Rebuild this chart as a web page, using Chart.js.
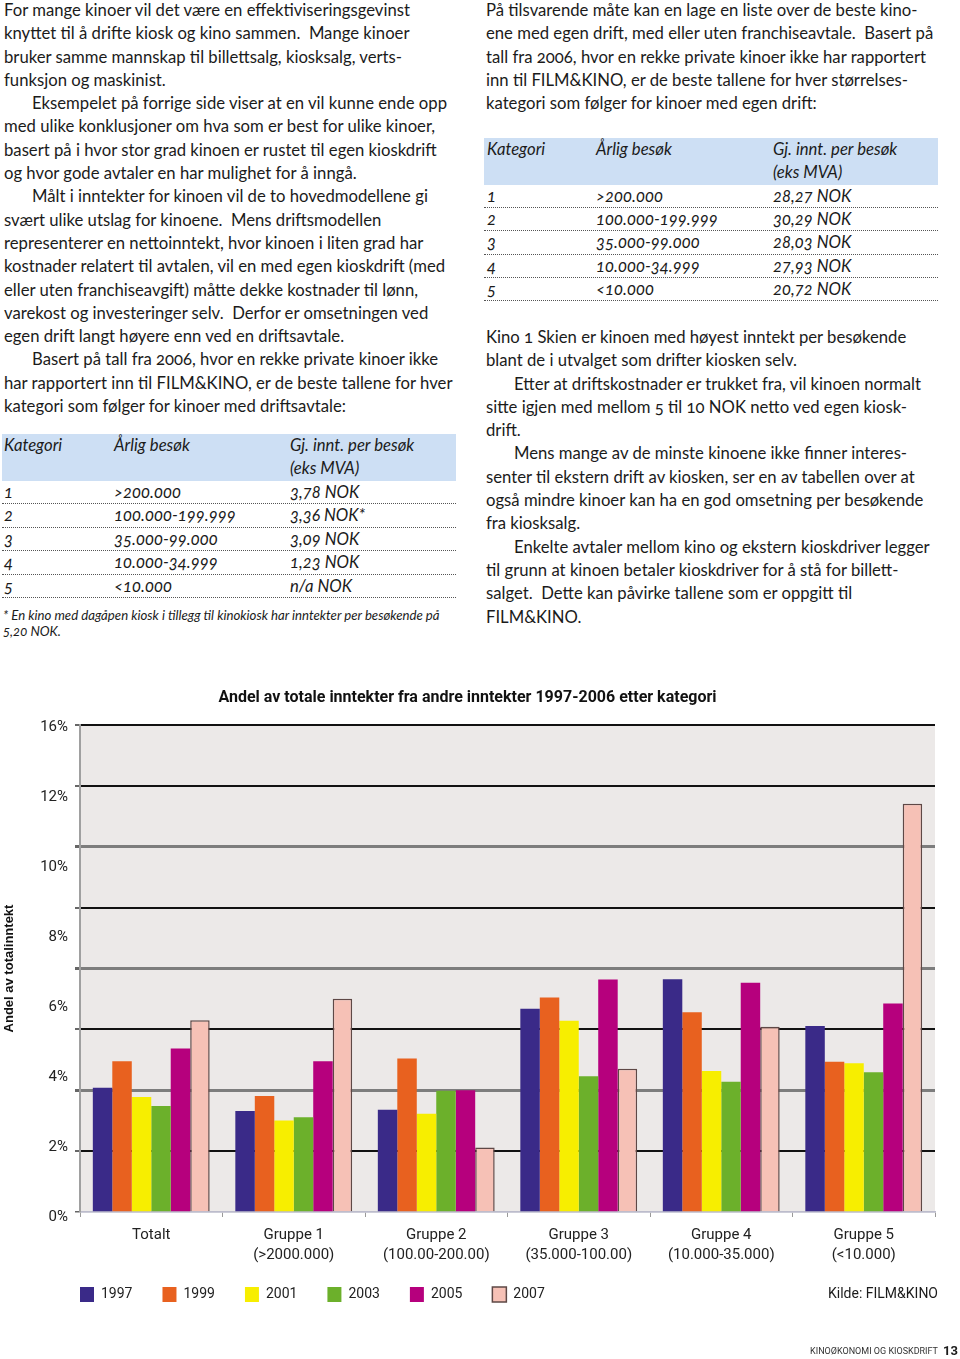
<!DOCTYPE html>
<html lang="no">
<head>
<meta charset="utf-8">
<title>Andel av totale inntekter fra andre inntekter</title>
<script src="https://cdn.jsdelivr.net/npm/chart.js@4.4.1/dist/chart.umd.min.js"></script>
<style>
  body { margin: 0; width: 960px; height: 1359px; position: relative; overflow: hidden;
         background: #fff; color: #1b1b1b; font-family: Lato, "Open Sans", sans-serif; }
  .blk, .tbl, .note { font-variant-numeric: oldstyle-nums; }
  .blk { position: absolute; font-size: 16.7px; line-height: 23.3px; white-space: nowrap; }
  .ind { padding-left: 28px; }
  .tbl { position: absolute; width: 454px; font-size: 16.7px; font-style: italic; }
  .tbl .hd { background: #cddff4; height: 47px; position: relative; }
  .tbl .row { height: 23.4px; position: relative; border-bottom: 1px dotted #555; box-sizing: border-box; }
  .tbl span { position: absolute; line-height: 23.4px; top: 0; white-space: nowrap; }
  .tbl .hd span.l2 { top: 23.4px; }
  .note { position: absolute; left: 3px; top: 607px; font-size: 13.2px; line-height: 16px; font-style: italic; white-space: nowrap; }
  #wrap { position: absolute; left: 0; top: 680px; width: 960px; height: 660px; }
  .cond { font-family: Roboto, "Liberation Sans", sans-serif; }
  .kilde { position: absolute; left: 828px; top: 1285px; font-size: 14px; white-space: nowrap; }
  .foot { position: absolute; right: 22px; top: 1346px; font-size: 9px; white-space: nowrap; color: #333; }
  .pg { position: absolute; right: 2px; top: 1343px; font-size: 13px; font-weight: bold; }
</style>
</head>
<body>

<div class="blk" style="left:4px; top:-1px;">
  <div>For mange kinoer vil det være en effektiviseringsgevinst</div>
  <div>knyttet til å drifte kiosk og kino sammen.&nbsp; Mange kinoer</div>
  <div>bruker samme mannskap til billettsalg, kiosksalg, verts-</div>
  <div>funksjon og maskinist.</div>
  <div class="ind">Eksempelet på forrige side viser at en vil kunne ende opp</div>
  <div>med ulike konklusjoner om hva som er best for ulike kinoer,</div>
  <div>basert på i hvor stor grad kinoen er rustet til egen kioskdrift</div>
  <div>og hvor gode avtaler en har mulighet for å inngå.</div>
  <div class="ind">Målt i inntekter for kinoen vil de to hovedmodellene gi</div>
  <div>svært ulike utslag for kinoene.&nbsp; Mens driftsmodellen</div>
  <div>representerer en nettoinntekt, hvor kinoen i liten grad har</div>
  <div>kostnader relatert til avtalen, vil en med egen kioskdrift (med</div>
  <div>eller uten franchiseavgift) måtte dekke kostnader til lønn,</div>
  <div>varekost og investeringer selv.&nbsp; Derfor er omsetningen ved</div>
  <div>egen drift langt høyere enn ved en driftsavtale.</div>
  <div class="ind">Basert på tall fra 2006, hvor en rekke private kinoer ikke</div>
  <div>har rapportert inn til FILM&amp;KINO, er de beste tallene for hver</div>
  <div>kategori som følger for kinoer med driftsavtale:</div>
</div>

<div class="tbl" style="left:2px; top:434px;">
  <div class="hd"><span style="left:2px">Kategori</span><span style="left:112px">Årlig besøk</span><span style="left:288px">Gj. innt. per besøk</span><span class="l2" style="left:288px">(eks MVA)</span></div>
  <div class="row"><span style="left:2px">1</span><span style="left:112px">&gt;200.000</span><span style="left:288px">3,78 NOK</span></div>
  <div class="row"><span style="left:2px">2</span><span style="left:112px">100.000-199.999</span><span style="left:288px">3,36 NOK*</span></div>
  <div class="row"><span style="left:2px">3</span><span style="left:112px">35.000-99.000</span><span style="left:288px">3,09 NOK</span></div>
  <div class="row"><span style="left:2px">4</span><span style="left:112px">10.000-34.999</span><span style="left:288px">1,23 NOK</span></div>
  <div class="row"><span style="left:2px">5</span><span style="left:112px">&lt;10.000</span><span style="left:288px">n/a NOK</span></div>
</div>
<div class="note">* En kino med dagåpen kiosk i tillegg til kinokiosk har inntekter per besøkende på<br>5,20 NOK.</div>

<div class="blk" style="left:486px; top:-1px;">
  <div>På tilsvarende måte kan en lage en liste over de beste kino-</div>
  <div>ene med egen drift, med eller uten franchiseavtale.&nbsp; Basert på</div>
  <div>tall fra 2006, hvor en rekke private kinoer ikke har rapportert</div>
  <div>inn til FILM&amp;KINO, er de beste tallene for hver størrelses-</div>
  <div>kategori som følger for kinoer med egen drift:</div>
</div>

<div class="tbl" style="left:484px; top:138px;">
  <div class="hd" style="height:46.5px"><span style="left:3px">Kategori</span><span style="left:112px">Årlig besøk</span><span style="left:289px">Gj. innt. per besøk</span><span class="l2" style="left:289px">(eks MVA)</span></div>
  <div class="row"><span style="left:3px">1</span><span style="left:112px">&gt;200.000</span><span style="left:289px">28,27 NOK</span></div>
  <div class="row"><span style="left:3px">2</span><span style="left:112px">100.000-199.999</span><span style="left:289px">30,29 NOK</span></div>
  <div class="row"><span style="left:3px">3</span><span style="left:112px">35.000-99.000</span><span style="left:289px">28,03 NOK</span></div>
  <div class="row"><span style="left:3px">4</span><span style="left:112px">10.000-34.999</span><span style="left:289px">27,93 NOK</span></div>
  <div class="row"><span style="left:3px">5</span><span style="left:112px">&lt;10.000</span><span style="left:289px">20,72 NOK</span></div>
</div>

<div class="blk" style="left:486px; top:326px;">
  <div>Kino 1 Skien er kinoen med høyest inntekt per besøkende</div>
  <div>blant de i utvalget som drifter kiosken selv.</div>
  <div class="ind">Etter at driftskostnader er trukket fra, vil kinoen normalt</div>
  <div>sitte igjen med mellom 5 til 10 NOK netto ved egen kiosk-</div>
  <div>drift.</div>
  <div class="ind">Mens mange av de minste kinoene ikke finner interes-</div>
  <div>senter til ekstern drift av kiosken, ser en av tabellen over at</div>
  <div>også mindre kinoer kan ha en god omsetning per besøkende</div>
  <div>fra kiosksalg.</div>
  <div class="ind">Enkelte avtaler mellom kino og ekstern kioskdriver legger</div>
  <div>til grunn at kinoen betaler kioskdriver for å stå for billett-</div>
  <div>salget.&nbsp; Dette kan påvirke tallene som er oppgitt til</div>
  <div>FILM&amp;KINO.</div>
</div>

<div id="wrap"><canvas id="chart" width="960" height="660"></canvas></div>
<div class="kilde cond">Kilde: FILM&amp;KINO</div>
<div class="foot cond">KINOØKONOMI OG KIOSKDRIFT</div>
<div class="pg cond">13</div>

<script>
// Kategorier (x-akse), to linjer der det trengs
const kategorier = [
  ['Totalt'],
  ['Gruppe 1', '(>2000.000)'],
  ['Gruppe 2', '(100.00-200.00)'],
  ['Gruppe 3', '(35.000-100.00)'],
  ['Gruppe 4', '(10.000-35.000)'],
  ['Gruppe 5', '(<10.000)']
];
const aar = ['1997', '1999', '2001', '2003', '2005', '2007'];

// Andel av totalinntekt (%) per år, lest av figuren
const andel1997 = [4.08, 3.32, 3.36, 6.68, 7.65, 6.11];
const andel1999 = [4.95, 3.81, 5.04, 7.05, 6.56, 4.94];
const andel2001 = [3.78, 3.01, 3.23, 6.28, 4.63, 4.89];
const andel2003 = [3.48, 3.11, 3.98, 4.46, 4.28, 4.59];
const andel2005 = [5.37, 4.95, 4.00, 7.64, 7.53, 6.85];
const andel2007 = [6.30, 7.01, 2.12, 4.71, 6.09, 13.41];

// Aksetekster slik de står i originalen (14% mangler der)
const yEtiketter = ['0%', '2%', '4%', '6%', '8%', '10%', '12%', '16%'];

const farger = ['#3a2a88', '#e8611f', '#f7ee00', '#6cb02b', '#b6007d', '#f6c1b6'];
const serier = [andel1997, andel1999, andel2001, andel2003, andel2005, andel2007];
const smal = "Roboto, 'Liberation Sans', sans-serif";

// Grå bakgrunn i plottområdet
const bakgrunn = {
  id: 'bakgrunn',
  beforeDraw(chart) {
    const { ctx, chartArea: a } = chart;
    ctx.save();
    ctx.fillStyle = '#ece9e8';
    ctx.fillRect(a.left, a.top, a.right - a.left, a.bottom - a.top);
    ctx.restore();
  }
};

// Forklaringen skal starte under plottets venstre kant og ligge litt høyere
const forklaringFlytt = {
  id: 'forklaringFlytt',
  afterLayout(chart) {
    const lg = chart.legend;
    const dx = chart.chartArea.left - lg.options.labels.padding - lg.left;
    const dy = -13;
    lg.left += dx; lg.right += dx;
    lg.top += dy; lg.bottom += dy;
  }
};

new Chart(document.getElementById('chart'), {
  type: 'bar',
  data: {
    labels: kategorier,
    datasets: aar.map((a, i) => ({
      label: a,
      data: serier[i],
      backgroundColor: farger[i],
      borderColor: i === 5 ? '#5e4846' : farger[i],
      borderWidth: i === 5 ? 1.5 : 0,
      categoryPercentage: 0.82,
      barPercentage: 1.0
    }))
  },
  options: {
    responsive: false,
    animation: false,
    layout: { padding: { left: 0, right: 25, top: 0, bottom: 15 } },
    plugins: {
      title: {
        display: true,
        text: 'Andel av totale inntekter fra andre inntekter 1997-2006 etter kategori',
        font: { family: smal, size: 16, weight: 'bold' },
        color: '#111',
        padding: { top: 8.4, bottom: 17.4 }
      },
      legend: {
        position: 'bottom',
        align: 'start',
        labels: {
          boxWidth: 14,
          boxHeight: 15,
          padding: 30,
          color: '#222',
          font: { family: smal, size: 14 }
        }
      },
      tooltip: { enabled: false }
    },
    scales: {
      x: {
        grid: { display: true, drawOnChartArea: false, drawTicks: true, tickLength: 5, color: '#9a9a9a', offset: true },
        border: { display: true, color: '#bcbccc', width: 1.5 },
        ticks: { color: '#222', padding: 8, maxRotation: 0, autoSkip: false,
                 font: { family: smal, size: 15, lineHeight: 1.33 } },
        afterFit(s) { s.height = 58; }
      },
      y: {
        min: 0,
        max: 16,
        ticks: { stepSize: 2, display: false },
        grid: {
          drawTicks: true,
          tickLength: 5,
          tickColor: '#666',
          color: (c) => c.tick.value === 0 ? '#bcbccc' : ([4, 8, 12].includes(c.tick.value) ? '#7d7d7d' : '#111'),
          lineWidth: (c) => c.tick.value === 0 ? 1.5 : ([4, 8, 12].includes(c.tick.value) ? 3 : 2)
        },
        border: { display: true, color: '#a0a0a0', width: 2 }
      },
      yEtikett: {
        position: 'left',
        min: 0.071,
        max: 7.029,
        afterBuildTicks(s) { s.ticks = yEtiketter.map((_, i) => ({ value: i })); },
        afterFit(s) { s.width = 75; },
        grid: { display: false, drawTicks: false },
        border: { display: false },
        ticks: { color: '#222', padding: 7, font: { family: smal, size: 15 },
                 callback: (v, i) => yEtiketter[i] },
        title: {
          display: true,
          text: 'Andel av totalinntekt',
          color: '#111',
          font: { family: "'Liberation Sans', Arial, sans-serif", size: 13, weight: 'bold' },
          padding: { top: 2, bottom: 0 }
        }
      }
    }
  },
  plugins: [bakgrunn, forklaringFlytt]
});
</script>
</body>
</html>
